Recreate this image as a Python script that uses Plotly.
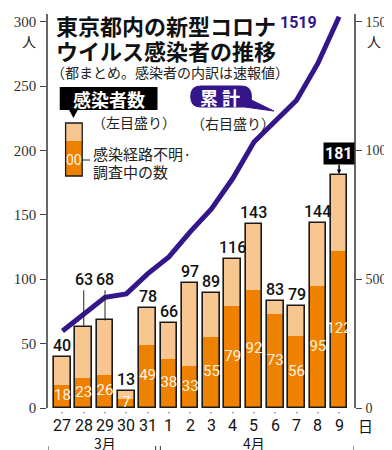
import plotly.graph_objects as go

# ---------------- data ----------------
days = ["27", "28", "29", "30", "31", "1", "2", "3", "4", "5", "6", "7", "8", "9"]
new_cases = [40, 63, 68, 13, 78, 66, 97, 89, 116, 143, 83, 79, 144, 181]
unknown_route = [18, 23, 26, 7, 49, 38, 33, 55, 79, 92, 73, 56, 95, 122]
cumulative = [299, 362, 430, 443, 521, 587, 684, 773, 891, 1033, 1116, 1195, 1338, 1519]
months = ["3月", "4月"]
left_ticks = [0, 50, 100, 150, 200, 250, 300]
right_ticks = [0, 500, 1000, 1500]

# ---------------- style ----------------
LIGHT = "#F8C690"
ORANGE = "#EE8200"
PURPLE = "#35168A"
NUM_FONT = "Roboto, Liberation Sans, sans-serif"
JP_FONT = "Noto Sans CJK JP, sans-serif"
SERIF = "Times New Roman, Liberation Serif, serif"

W, H = 392, 450
PL, PR, PT, PB = 37, 350, 6, 400


def px(x):
    return (x - PL) / (PR - PL)


def py(y):
    return (PB - y) / (PB - PT)


def path_of(points, closed=True):
    parts = []
    for cmd, pts in points:
        parts.append(cmd + " " + " ".join("%f,%f" % (px(a), py(b)) for a, b in pts))
    return " ".join(parts) + (" Z" if closed else "")


def label(x, y, text, size, color="#222", family=JP_FONT, xanchor="center", yanchor="middle", **kw):
    d = dict(x=px(x), y=py(y), xref="paper", yref="paper", text=text, showarrow=False,
             xanchor=xanchor, yanchor=yanchor, font=dict(family=family, size=size, color=color))
    d.update(kw)
    return d


xs = list(range(len(days)))

fig = go.Figure()

# bars: total (light), unknown (orange), outline
fig.add_trace(go.Bar(x=xs, y=new_cases, width=0.78, marker=dict(color=LIGHT, line=dict(width=0)),
                     hoverinfo="skip", showlegend=False))
fig.add_trace(go.Bar(x=xs, y=unknown_route, width=0.78, marker=dict(color=ORANGE, line=dict(width=0)),
                     hoverinfo="skip", showlegend=False))
fig.add_trace(go.Bar(x=xs, y=new_cases, width=0.78,
                     marker=dict(color="rgba(0,0,0,0)", line=dict(color="#1a1a1a", width=1.6)),
                     hoverinfo="skip", showlegend=False))

# inner labels (unknown counts)
fig.add_trace(go.Scatter(x=xs, y=[u / 2 for u in unknown_route], mode="text",
                         text=[str(u) for u in unknown_route],
                         textfont=dict(family=NUM_FONT, size=15, color="#FFF3E0"),
                         hoverinfo="skip", showlegend=False, cliponaxis=False))

# cumulative line on right axis
fig.add_trace(go.Scatter(x=xs, y=cumulative, yaxis="y2", mode="lines",
                         line=dict(color=PURPLE, width=5), hoverinfo="skip",
                         showlegend=False, cliponaxis=False))

ann = []
shapes = []

TOP_FONT = dict(family=NUM_FONT, size=16, color="#111", weight=500)

# top value labels
for i, v in enumerate(new_cases):
    if i in (1, 2):
        ann.append(dict(x=i, y=v, xref="x", yref="y", text=str(v), showarrow=True,
                        ax=i, ay=100, axref="x", ayref="y", arrowhead=0, arrowwidth=1,
                        arrowcolor="#222", standoff=0, xanchor="center", font=TOP_FONT))
    elif i == len(new_cases) - 1:
        ann.append(dict(x=i, y=v, xref="x", yref="y", text="<b>%d</b>" % v, showarrow=True,
                        ax=0, ay=-21, arrowhead=2, arrowsize=0.6, arrowwidth=1.5,
                        arrowcolor="#000", standoff=1, bgcolor="#000", borderpad=1,
                        xanchor="center",
                        font=dict(family=NUM_FONT, size=16, color="white")))
    else:
        ann.append(dict(x=i, y=v, xref="x", yref="y", text=str(v), showarrow=False,
                        xanchor="center", yanchor="bottom", yshift=0, font=TOP_FONT))

# day labels with small dots
for i, d in enumerate(days):
    ann.append(dict(x=i, y=py(405), xref="x", yref="paper", text="•", showarrow=False,
                    xanchor="center", yanchor="middle", font=dict(size=5, color="#333")))
    ann.append(dict(x=i, y=py(417), xref="x", yref="paper", text=d, showarrow=False,
                    xanchor="center", yanchor="middle",
                    font=dict(family=NUM_FONT, size=16, color="#111")))
ann.append(label(352, 417, "日", 15, color="#111", xanchor="left"))

# month brackets
month_spans = [(-0.68, 4.38), (4.6, 13.70)]
month_centers = [2, 9]
for (a, b), c, m in zip(month_spans, month_centers, months):
    shapes.append(dict(type="path", xref="x", yref="paper",
                       path="M %f,%f L %f,%f L %f,%f L %f,%f" % (a, py(438), a, py(444), b, py(444), b, py(438)),
                       line=dict(color="#333", width=1)))
    ann.append(dict(x=c, y=py(435), xref="x", yref="paper", text=m, showarrow=False,
                    xanchor="center", yanchor="middle",
                    font=dict(family=JP_FONT, size=14, color="#111")))

# unit labels
ann.append(label(18, 33, "人", 14))
ann.append(label(370, 33, "人", 14))

# title
ann.append(label(43, 17.5, "<b>東京都内の新型コロナ</b>", 22, color="#111", xanchor="left"))
ann.append(label(43, 42.5, "<b>ウイルス感染者の推移</b>", 22, color="#111", xanchor="left"))
ann.append(label(38, 64, "（都まとめ。感染者の内訳は速報値）", 14, xanchor="left"))

# legend: new cases box
shapes.append(dict(type="rect", xref="paper", yref="paper", x0=px(49), x1=px(149), y0=py(79), y1=py(102),
                   fillcolor="#000", line=dict(width=0)))
shapes.append(dict(type="path", xref="paper", yref="paper",
                   path=path_of([("M", [(58, 101)]), ("L", [(68, 101)]), ("L", [(63, 110)])]),
                   fillcolor="#000", line=dict(width=0)))
ann.append(label(99, 90.5, "<b>感染者数</b>", 18, color="white"))
ann.append(label(80, 114, "（左目盛り）", 14, xanchor="left"))
shapes.append(dict(type="rect", xref="paper", yref="paper", x0=px(55), x1=px(72), y0=py(133), y1=py(115),
                   fillcolor=LIGHT, line=dict(width=0)))
shapes.append(dict(type="rect", xref="paper", yref="paper", x0=px(55), x1=px(72), y0=py(168), y1=py(133),
                   fillcolor=ORANGE, line=dict(width=0)))
shapes.append(dict(type="rect", xref="paper", yref="paper", x0=px(55), x1=px(72), y0=py(168), y1=py(115),
                   fillcolor="rgba(0,0,0,0)", line=dict(color="#1a1a1a", width=1.3)))
shapes.append(dict(type="line", xref="paper", yref="paper", x0=px(72), x1=px(80), y0=py(152), y1=py(152),
                   line=dict(color="#222", width=1)))
ann.append(label(63.5, 152, "00", 14, color="#FFF3E0", family=NUM_FONT))
ann.append(label(81, 146, "感染経路不明·", 15, xanchor="left"))
ann.append(label(81, 163, "調査中の数", 15, xanchor="left"))

# legend: cumulative pill with tail
r = 10
x0, x1, y0, y1 = 183, 245, 78, 99
pill = path_of([
    ("M", [(x0 + r, y0)]),
    ("L", [(x1 - r, y0)]),
    ("Q", [(x1, y0), (x1, y0 + r)]),
    ("L", [(x1, y1 - 7)]),
    ("L", [(268, 103)]),
    ("L", [(x1 - 7, y1)]),
    ("L", [(x0 + r, y1)]),
    ("Q", [(x0, y1), (x0, y1 - r)]),
    ("L", [(x0, y0 + r)]),
    ("Q", [(x0, y0), (x0 + r, y0)]),
])
shapes.append(dict(type="path", xref="paper", yref="paper", path=pill, fillcolor=PURPLE,
                   line=dict(color=PURPLE, width=1)))
ann.append(label(213, 88.5, "<b>累 計</b>", 18, color="white"))
ann.append(label(181, 115, "（右目盛り）", 14, xanchor="left"))

# last cumulative value label
ann.append(dict(x=len(days) - 1, y=cumulative[-1], xref="x", yref="y2", text="<b>%d</b>" % cumulative[-1],
                showarrow=False, xanchor="right", yanchor="middle", xshift=-20, yshift=-6,
                font=dict(family=NUM_FONT, size=16, color=PURPLE)))

fig.update_layout(
    width=W, height=H,
    margin=dict(l=PL, r=W - PR, t=PT, b=H - PB, pad=0),
    paper_bgcolor="white", plot_bgcolor="white",
    barmode="overlay", bargap=0,
    xaxis=dict(range=[-0.68, 13.70], showticklabels=False, showgrid=False, zeroline=False,
               showline=False, ticks="", fixedrange=True),
    yaxis=dict(range=[0, 306], tickvals=left_ticks, ticks="outside", ticklen=6, tickcolor="#444",
               tickwidth=1, showline=True, linecolor="#666", linewidth=1.5, showgrid=False,
               zeroline=False, tickfont=dict(family=SERIF, size=15, color="#333"), ticklabelstandoff=1),
    yaxis2=dict(range=[0, 1530], overlaying="y", side="right", tickvals=right_ticks, ticks="outside",
                ticklen=6, tickcolor="#444", tickwidth=1, showline=True, linecolor="#666", linewidth=1.5,
                showgrid=False, zeroline=False, tickfont=dict(family=SERIF, size=14, color="#333"),
                ticklabelstandoff=1),
    annotations=ann, shapes=shapes, showlegend=False,
)

fig.write_html("out.html")
